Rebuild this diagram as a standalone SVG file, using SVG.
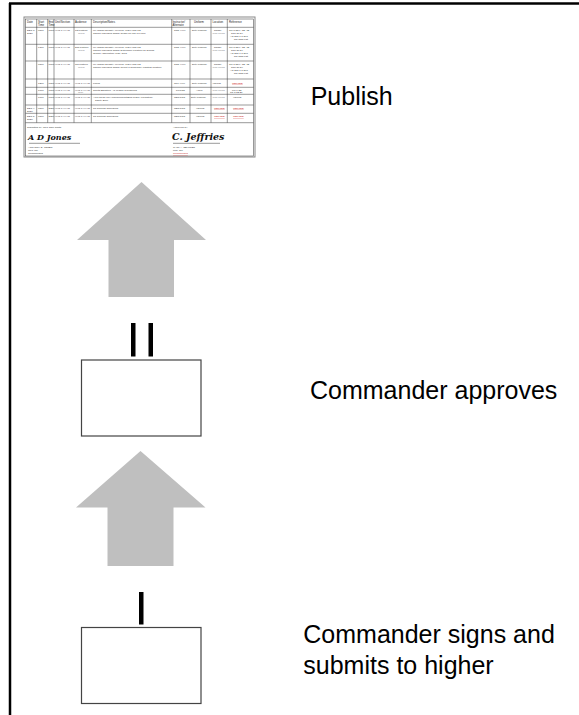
<svg xmlns="http://www.w3.org/2000/svg" width="579" height="715" viewBox="0 0 579 715">
<style>
.lbl{font-family:"Liberation Sans",Arial,sans-serif;font-size:25px;fill:#000}
.h{font-family:"Liberation Sans",Arial,sans-serif;font-size:2.8px;fill:#222}
.t{font-family:"Liberation Sans",Arial,sans-serif;font-size:2.5px;fill:#333}
.r{font-family:"Liberation Sans",Arial,sans-serif;font-size:2.5px;fill:#c33;text-decoration:underline}
.g{stroke:#333;stroke-width:0.5;fill:none}
.arrow{fill:#bfbfbf}
.box{fill:#fff;stroke:#444;stroke-width:1.2}
.bar{fill:#000}
.sig{font-family:"DejaVu Serif",serif;font-style:italic;font-weight:bold;fill:#111}
</style>
<rect width="579" height="715" fill="#fff"/>
<g id="frame">
<line x1="9" y1="3.5" x2="579" y2="3.5" stroke="#000" stroke-width="2.5"/>
<line x1="10" y1="3" x2="10" y2="715" stroke="#000" stroke-width="2.5"/>
</g>
<g id="schedule">
<rect x="24" y="17" width="231" height="140" fill="#fff" stroke="#888" stroke-width="1"/>
<rect x="25.5" y="19" width="228" height="137" class="g"/>
<path class="g" d="M25.5 27.3H253.5M25.5 44.3H253.5M25.5 61H253.5M25.5 79H253.5M25.5 87.3H253.5M25.5 94.3H253.5M25.5 105H253.5M25.5 113.3H253.5M25.5 122.7H253.5M36.7 19V122.7M47.7 19V122.7M54 19V122.7M74 19V122.7M91.3 19V122.7M171.7 19V122.7M190 19V122.7M211 19V122.7M227.3 19V122.7"/>
<path class="g" d="M29 143.3H80M173 143.3H220"/>
<text class="h" x="27" y="22.5">Date</text>
<text class="h" x="38" y="22.5">Start</text><text class="h" x="38" y="25.8">Time</text>
<text class="h" x="48.5" y="22.5">End</text><text class="h" x="48.5" y="25.8">Time</text>
<text class="h" x="55" y="22.5">Unit/Section</text>
<text class="h" x="75" y="22.5">Audience</text>
<text class="h" x="93" y="22.5">Description/Notes</text>
<text class="h" x="172.5" y="22.5">Instructor/</text><text class="h" x="172.5" y="25.8">Alternate</text>
<text class="h" x="194" y="22.5">Uniform</text>
<text class="h" x="212.5" y="22.5">Location</text>
<text class="h" x="229" y="22.5">Reference</text>
<text class="t" x="27" y="30.5">DEC 3</text><text class="t" x="27" y="33.5">2020</text>
<text class="t" x="38" y="30.5">0800</text><text class="t" x="48.5" y="30.5">1700</text>
<text class="t" x="55" y="30.5">HHC 1-XX IN</text>
<text class="t" x="75" y="30.5">1st Platoon</text><text class="t" x="78" y="33.5">(XXX)</text>
<text class="t" x="93" y="30.5">M4 Range Density: M4/M16, M249 and M2</text><text class="t" x="93" y="33.5">COMM Individual Tasks: Grade for use of Force</text>
<text class="t" x="174" y="30.5">SSG Xxxx</text><text class="t" x="192" y="30.5">Duty Uniform</text>
<text class="t" x="214" y="30.5">Range</text><text class="t" x="212.5" y="33.5">XXX-XXXX</text>
<text class="t" x="229" y="30.5">TM 3-22.9, 3E, 4E</text><text class="t" x="231" y="33.5">STP 21-24</text><text class="t" x="230" y="36.5">AR 215-1 &amp; 207</text><text class="t" x="234" y="39.5">RC Task List</text>
<text class="t" x="38" y="47.5">1300</text><text class="t" x="48.5" y="47.5">1700</text>
<text class="t" x="55" y="47.5">HHC 1-XX IN</text>
<text class="t" x="75" y="47.5">2nd Platoon</text><text class="t" x="78" y="50.5">(XXX)</text>
<text class="t" x="93" y="47.5">M4 Range Density: M4/M16, M249 and M2</text><text class="t" x="93" y="50.5">COMM Individual Tasks: Determine Location on ground</text><text class="t" x="93" y="53.5">Terrain Association: Map, GPS</text>
<text class="t" x="174" y="47.5">SSG Xxxx</text><text class="t" x="192" y="47.5">Duty Uniform</text>
<text class="t" x="214" y="47.5">Range</text><text class="t" x="212.5" y="50.5">XXX-XXXX</text>
<text class="t" x="229" y="47.5">TM 3-22.9, 3E, 4E</text><text class="t" x="231" y="50.5">STP 21-24</text><text class="t" x="230" y="53.5">AR 215-1 &amp; 207</text><text class="t" x="234" y="56.5">RC Task List</text>
<text class="t" x="38" y="64.5">0800</text><text class="t" x="48.5" y="64.5">1700</text>
<text class="t" x="55" y="64.5">HHC 1-XX IN</text>
<text class="t" x="75" y="64.5">3rd Platoon</text><text class="t" x="78" y="67.5">(XXX)</text>
<text class="t" x="93" y="64.5">M4 Range Density: M4/M16, M249 and M2</text><text class="t" x="93" y="67.5">COMM Individual Tasks: Select a Temporary Fighting Position</text>
<text class="t" x="174" y="64.5">SSG Xxxx</text><text class="t" x="192" y="64.5">Duty Uniform</text>
<text class="t" x="214" y="64.5">Range</text><text class="t" x="212.5" y="67.5">XXX-XXXX</text>
<text class="t" x="229" y="64.5">TM 3-22.9, 3E, 4E</text><text class="t" x="231" y="67.5">STP 21-24</text><text class="t" x="230" y="70.5">AR 215-1 &amp; 207</text><text class="t" x="234" y="73.5">RC Task List</text>
<text class="t" x="38" y="83.5">1200</text><text class="t" x="48.5" y="83.5">1300</text>
<text class="t" x="55" y="83.5">HHC 1-XX IN</text><text class="t" x="75" y="83.5">HHC 1-XX IN</text>
<text class="t" x="93" y="83.5">Lunch</text>
<text class="t" x="174" y="83.5">CPL Xxxx</text><text class="t" x="192" y="83.5">Duty Uniform</text>
<text class="t" x="212.5" y="83.5">Various</text><text class="r" x="232" y="83.5">TBD/SEE</text>
<text class="t" x="38" y="90.5">1600</text><text class="t" x="48.5" y="90.5">1700</text>
<text class="t" x="55" y="90.5">HHC 1-XX IN</text><text class="t" x="75" y="90.5">HHC 1-XX IN</text><text class="t" x="78" y="93.3">(XX)</text>
<text class="t" x="93" y="90.5">Sports Equation - IT Leader Counseling</text>
<text class="t" x="176" y="90.5">PL/PSG</text><text class="t" x="196" y="90.5">APFU</text>
<text class="t" x="212.5" y="90.5">XXX-XXXX</text><text class="t" x="232" y="90.5">FM 6-22</text><text class="t" x="230" y="93.3">TC 3-22.20</text>
<text class="t" x="38" y="98">1600</text><text class="t" x="48.5" y="98">1700</text>
<text class="t" x="55" y="98">HHC 1-XX IN</text><text class="t" x="75" y="98">HHC 1-XX IN</text>
<text class="t" x="93" y="98">Area Clean Up/Announcement/End of Day Formation/</text><text class="t" x="95" y="101">Safety Brief</text>
<text class="t" x="174" y="98">CDR/1SG</text><text class="t" x="191" y="98">Duty Uniform</text>
<text class="t" x="212.5" y="98">XXX-XXXX</text><text class="t" x="233" y="98">Various</text>
<text class="t" x="27" y="108.5">DEC 4</text><text class="t" x="27" y="111.5">2020</text>
<text class="t" x="38" y="108.5">0800</text><text class="t" x="48.5" y="108.5">2359</text>
<text class="t" x="55" y="108.5">HHC 1-XX IN</text><text class="t" x="75" y="108.5">HHC 1-XX IN</text>
<text class="t" x="93" y="108.5">ST Training Scheduled</text>
<text class="t" x="174" y="108.5">CDR/1SG</text><text class="t" x="196" y="108.5">Various</text>
<text class="r" x="214" y="108.5">TBD/SEE</text><text class="r" x="233" y="108.5">TBD/SEE</text>
<text class="t" x="27" y="117">DEC 5</text><text class="t" x="27" y="120">2020</text>
<text class="t" x="38" y="117">0800</text><text class="t" x="48.5" y="117">2359</text>
<text class="t" x="55" y="117">HHC 1-XX IN</text><text class="t" x="75" y="117">HHC 1-XX IN</text>
<text class="t" x="93" y="117">ST Training Scheduled</text>
<text class="t" x="174" y="117">CDR/1SG</text><text class="t" x="196" y="117">Various</text>
<text class="r" x="214" y="117">TBD/SEE</text><text class="r" x="233" y="117">TBD/SEE</text>
<text class="t" x="27" y="128">Submitted by:  CPT Jane Smith</text>
<text class="t" x="173" y="128">Approved by:</text>
<text class="sig" x="28" y="139.5" font-size="8">A D Jones</text>
<text class="sig" x="172" y="140" font-size="9.5">C. Jeffries</text>
<text class="t" x="28" y="147.5">ANTHONY D. JONES</text><text class="t" x="28" y="150.8">CPT, INF</text><text class="t" x="28" y="154">Commanding</text>
<text class="t" x="173" y="147.5">CARL A. JEFFRIES</text><text class="t" x="173" y="150.8">LTC, INF</text><text class="r" x="173" y="154">Commanding</text>
</g>
<g id="connectors">
<polygon class="arrow" points="141.5,182 206,240 174,240 174,297 108.5,297 108.5,240 77,240"/>
<polygon class="arrow" points="140.5,451 205.5,507.5 173.5,507.5 173.5,566 107.5,566 107.5,507.5 76,507.5"/>
</g>
<g id="approval-marks">
<rect class="bar" x="131" y="323" width="4.5" height="33.5"/>
<rect class="bar" x="148.5" y="323" width="4.5" height="33.5"/>
</g>
<g id="approve-box"><rect class="box" x="81.5" y="360" width="119.5" height="76"/></g>
<g id="sign-mark"><rect class="bar" x="139" y="592" width="4.5" height="32.5"/></g>
<g id="sign-box"><rect class="box" x="81.5" y="627.5" width="119.5" height="76"/></g>
<g id="labels">
<text class="lbl" x="310.7" y="105">Publish</text>
<text class="lbl" x="310" y="399">Commander approves</text>
<text class="lbl" x="303.3" y="643.3">Commander signs and</text>
<text class="lbl" x="303.3" y="674.3">submits to higher</text>
</g>
</svg>
